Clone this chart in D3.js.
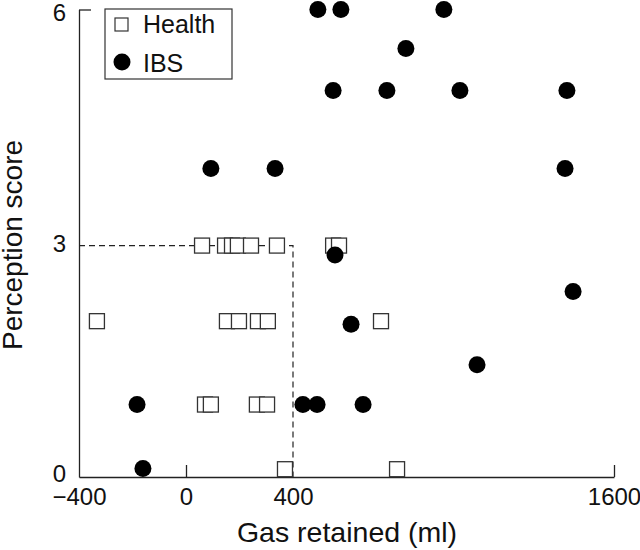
<!DOCTYPE html>
<html>
<head>
<meta charset="utf-8">
<script src="https://cdn.jsdelivr.net/npm/d3@7"></script>
<style>
  body { margin: 0; background: #fff; }
  text { font-family: "Liberation Sans", Arial, Helvetica, sans-serif; fill: #111; }
</style>
</head>
<body>
<div id="my_scatter"></div>
<script>
// data
var healthGas   = [60, 146, 172, 194, 243, 340, 550, 572, -333, 153, 198, 269, 306, 729, 71, 93, 265, 303, 370, 789];
var healthScore = [2.97, 2.97, 2.97, 2.97, 2.97, 2.97, 2.97, 2.97, 2, 2, 2, 2, 2, 2, 0.93, 0.93, 0.93, 0.93, 0.1, 0.1];
var ibsGas      = [493, 579, 964, 822, 550, 751, 1024, 1424, 93, 333, 1417, 557, 1447, 617, 1088, -183, 437, 490, 662, -161];
var ibsScore    = [6, 6, 6, 5.5, 4.96, 4.96, 4.96, 4.96, 3.96, 3.96, 3.96, 2.85, 2.38, 1.96, 1.44, 0.93, 0.93, 0.93, 0.93, 0.11];
var xTicks = [-400, 0, 400, 1600];
var yTicks = [0, 3, 6];
var cutGas = 400, cutScore = 2.97;
var legendLabels = ["Health", "IBS"];

// set the dimensions and margins of the graph
var margin = { top: 9.5, right: 26, bottom: 73, left: 79 },
    width = 640 - margin.left - margin.right,
    height = 550 - margin.top - margin.bottom;

var svg = d3.select("#my_scatter")
  .append("svg")
  .attr("width", 640)
  .attr("height", 550)
  .append("g")
  .attr("transform", "translate(" + margin.left + "," + margin.top + ")");

var x = d3.scaleLinear().domain([-400, 1600]).range([0, width]);
var y = d3.scaleLinear().domain([0, 6]).range([height, 0]);

// axes, ticks point inward
var xAxis = svg.append("g")
  .attr("transform", "translate(0," + height + ")")
  .call(d3.axisBottom(x).tickValues(xTicks).tickSizeInner(-12).tickSizeOuter(0).tickPadding(11)
    .tickFormat(function(d) { return d < 0 ? "\u2212" + Math.abs(d) : d; }));
xAxis.selectAll(".tick line").style("display", function(d) { return (d == 0 || d == 1600) ? null : "none"; });

var yAxis = svg.append("g")
  .call(d3.axisLeft(y).tickValues(yTicks).tickSizeInner(-12).tickSizeOuter(0).tickPadding(13)
    .tickFormat(d3.format("d")));
yAxis.selectAll(".tick line").style("display", function(d) { return d == 6 ? null : "none"; });
yAxis.selectAll(".tick text").attr("dy", function(d) { return d == 0 ? "0.2em" : d == 6 ? "0.45em" : "0.36em"; });

svg.selectAll(".domain, .tick line").attr("stroke", "#222").attr("stroke-width", 1.3);
svg.selectAll(".tick text").style("font-size", "24px").attr("fill", "#111");

// axis titles
svg.append("text")
  .attr("x", 347 - margin.left)
  .attr("y", 542 - margin.top)
  .attr("text-anchor", "middle")
  .style("font-size", "28.5px")
  .text("Gas retained (ml)");

svg.append("text")
  .attr("transform", "translate(" + (22 - margin.left) + "," + (245 - margin.top) + ") rotate(-90)")
  .attr("text-anchor", "middle")
  .style("font-size", "28px")
  .text("Perception score");

// dashed cut-off lines
svg.append("path")
  .attr("d", "M" + x(-400) + "," + y(cutScore) + "H" + x(cutGas) + "V" + y(0))
  .attr("fill", "none")
  .attr("stroke", "#222")
  .attr("stroke-width", 1.2)
  .attr("stroke-dasharray", "6,4");

// healthy subjects: open squares, drawn left to right
var health = healthGas.map(function(g, i) { return { gas: g, score: healthScore[i] }; })
  .sort(function(a, b) { return a.gas - b.gas; });
var sq = 15;
svg.selectAll(".health")
  .data(health)
  .enter()
  .append("rect")
    .attr("class", "health")
    .attr("x", function(d) { return x(d.gas) - sq / 2; })
    .attr("y", function(d) { return y(d.score) - sq / 2; })
    .attr("width", sq)
    .attr("height", sq)
    .attr("fill", "#fff")
    .attr("stroke", "#333")
    .attr("stroke-width", 1.3);

// IBS patients: filled circles
var ibs = ibsGas.map(function(g, i) { return { gas: g, score: ibsScore[i] }; });
svg.selectAll(".ibs")
  .data(ibs)
  .enter()
  .append("circle")
    .attr("class", "ibs")
    .attr("cx", function(d) { return x(d.gas); })
    .attr("cy", function(d) { return y(d.score); })
    .attr("r", 8.5)
    .attr("fill", "#000");

// legend
var legend = svg.append("g").attr("transform", "translate(" + (105 - margin.left) + "," + (9 - margin.top) + ")");
legend.append("rect")
  .attr("width", 127).attr("height", 70)
  .attr("fill", "#fff").attr("stroke", "#333").attr("stroke-width", 1.2);
legend.append("rect")
  .attr("x", 10).attr("y", 9).attr("width", 13).attr("height", 13)
  .attr("fill", "#fff").attr("stroke", "#333").attr("stroke-width", 1.2);
legend.append("circle")
  .attr("cx", 17).attr("cy", 53).attr("r", 8.5).attr("fill", "#000");
legend.selectAll(".lab")
  .data(legendLabels)
  .enter()
  .append("text")
    .attr("x", 38)
    .attr("y", function(d, i) { return 24 + i * 39; })
    .style("font-size", "25px")
    .text(function(d) { return d; });
</script>
</body>
</html>
